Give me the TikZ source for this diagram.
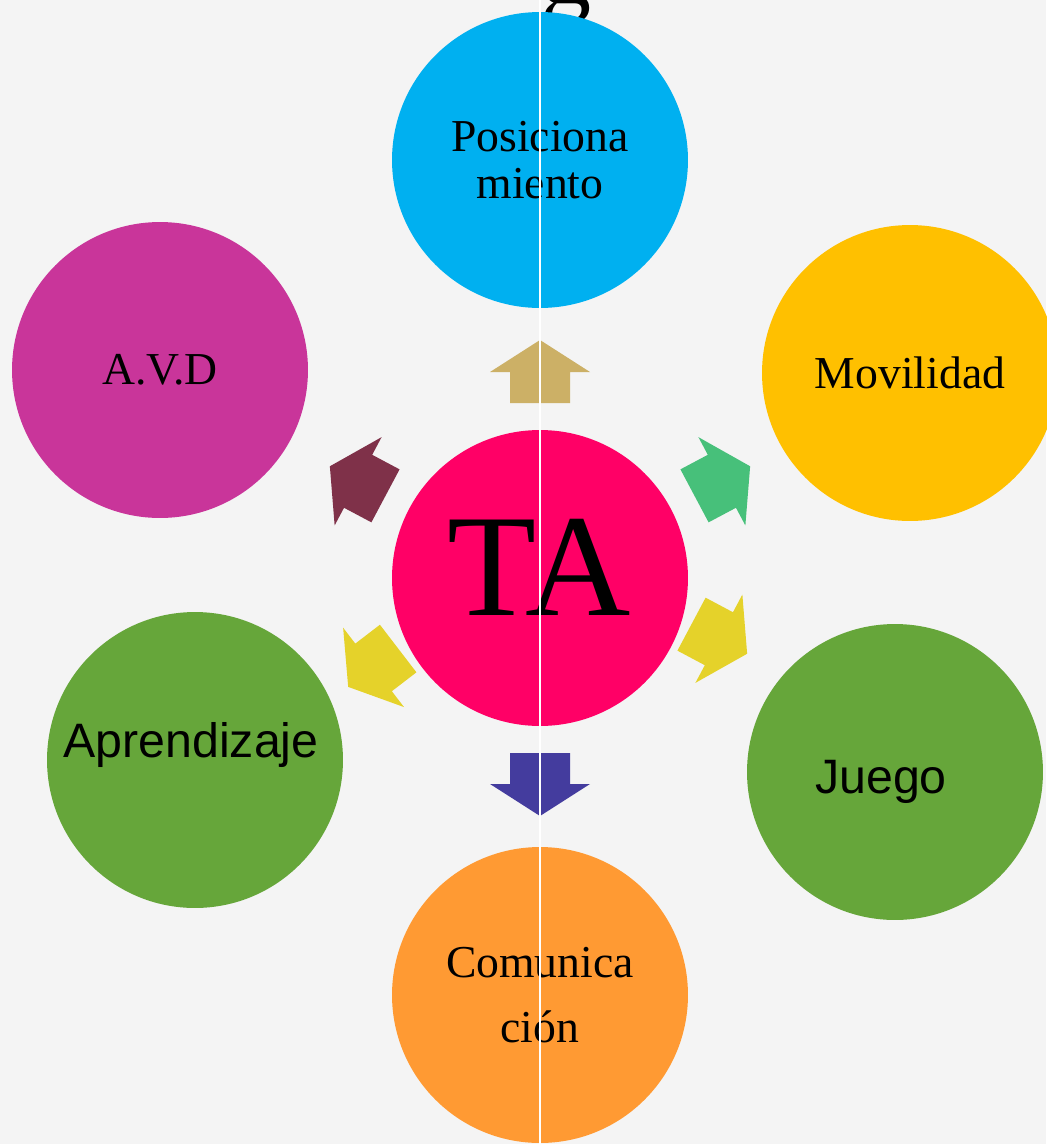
\documentclass[tikz,border=0pt]{standalone}
\usepackage{fontspec}
\setmainfont{Liberation Serif}
\newfontfamily\arialfont{Liberation Sans}
\definecolor{bggray}{RGB}{244, 244, 244}
\definecolor{posblue}{RGB}{0, 176, 240}
\definecolor{avdpink}{RGB}{201, 53, 154}
\definecolor{movgold}{RGB}{255, 192, 0}
\definecolor{tared}{RGB}{255, 0, 102}
\definecolor{leafgreen}{RGB}{102, 166, 58}
\definecolor{comorange}{RGB}{255, 154, 51}
\definecolor{arrtan}{RGB}{204, 176, 102}
\definecolor{arrindigo}{RGB}{68, 60, 158}
\definecolor{arrwine}{RGB}{127, 49, 73}
\definecolor{arrmint}{RGB}{71, 192, 122}
\definecolor{arryellow}{RGB}{229, 210, 42}
\usetikzlibrary{calc}

\begin{document}
\begin{tikzpicture}[x=0.02cm, y=-0.02cm,
  bubble/.style={circle, fill=#1, minimum size=5.92cm, inner sep=0pt, align=center, font=\fontsize{26}{26.6}\selectfont},
  sanslabel/.style={anchor=base, inner sep=0pt, font=\arialfont\fontsize{27.5}{30}\selectfont},
  blockarr/.pic={\fill (175,-30) -- (206,-30) -- (206,-50) -- (238,0) -- (206,50) -- (206,30) -- (175,30) -- cycle;},
]
  \useasboundingbox[fill=bggray] (0,0) rectangle (1046,1144);

  % Title cut off at the top
  \node[font=\fontsize{57}{57}\selectfont, anchor=base, inner sep=0pt] (ttlg) at (567,3) {g};

  % Center
  \node[bubble=tared] (ta) at (540,578) {};
  \node[anchor=base, inner sep=0pt, font=\fontsize{83}{83}\selectfont] (tatxt) at ($(ta)+(-1,37)$) {TA};

  % Surrounding circles
  \node[bubble=posblue] (pos) at (540,160) {Posiciona\\miento};
  \node[bubble=avdpink] (avd) at (160,370) {A.V.D};
  \node[bubble=movgold] (mov) at (910,373) {Movilidad};
  \node[bubble=leafgreen] (apr) at (195,760) {};
  \node[bubble=leafgreen] (jgo) at (895,772) {};
  \node[bubble=comorange, font=\fontsize{26}{37.4}\selectfont] (com) at (540,995) {Comunica\\ción};
  \node[sanslabel] (aprtxt) at ($(apr)+(-4,-3)$) {Aprendizaje};
  \node[sanslabel] (jgotxt) at ($(jgo)+(-14,21)$) {Juego};

  % Block arrows
  \coordinate (yhub) at ($(ta)+(-3,-36)$);
  \pic[rotate=90, fill=arrtan] at (ta) {blockarr};
  \pic[rotate=152, fill=arrwine] at (ta) {blockarr};
  \pic[rotate=28, fill=arrmint] at (ta) {blockarr};
  \pic[rotate=217.5, fill=arryellow] at (yhub) {blockarr};
  \pic[rotate=-28, fill=arryellow] at (yhub) {blockarr};
  \pic[rotate=-90, fill=arrindigo] at (ta) {blockarr};

  % Seam
  \coordinate (seamtop) at (540,0);
  \coordinate (seambot) at (540,1144);
  \draw[white, line width=0.8pt] (seamtop) -- (seambot);
\end{tikzpicture}
\end{document}
